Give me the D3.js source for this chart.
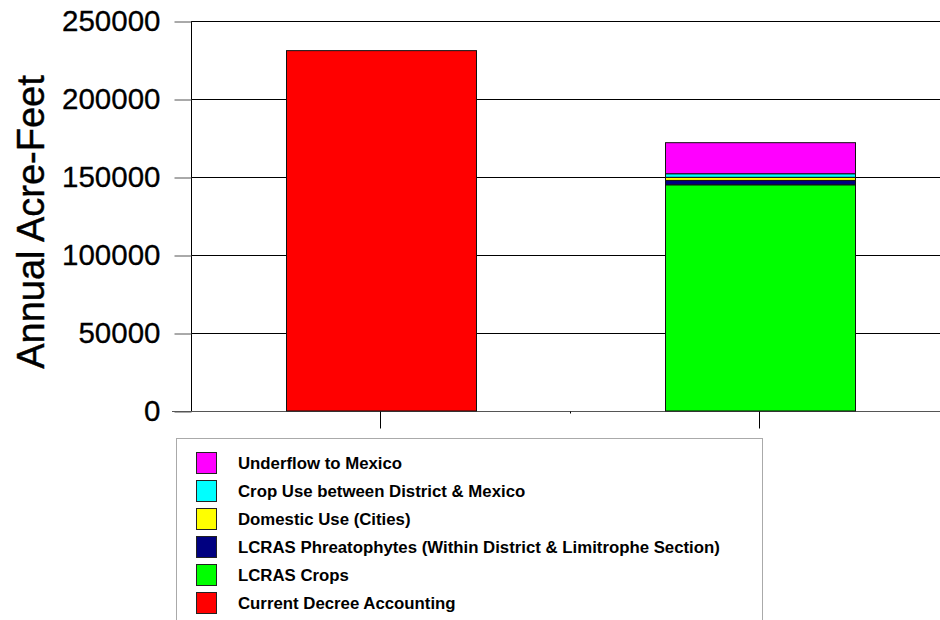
<!DOCTYPE html>
<html>
<head>
    <title>Annual Acre-Feet</title>
    <script src="https://cdn.jsdelivr.net/npm/d3@7"></script>
    <style>
        body { margin: 0; background: #fff; }
        svg { font-family: "Liberation Sans", Arial, sans-serif; }
        .grid line { stroke: #000; stroke-width: 1px; shape-rendering: crispEdges; }
        .legend text { font-weight: bold; font-size: 16.8px; }
    </style>
</head>
<body>
    <div id="chart"></div>
    <script>
        // categories (no labels shown on the x axis in the original)
        var categories = ["Current", "Proposed"];

        // series, listed bottom of stack to top
        var seriesNames = [
            "Current Decree Accounting",
            "LCRAS Crops",
            "LCRAS Phreatophytes (Within District & Limitrophe Section)",
            "Domestic Use (Cities)",
            "Crop Use between District & Mexico",
            "Underflow to Mexico"
        ];
        var seriesColors = ["#ff0000", "#00ff00", "#000080", "#ffff00", "#00ffff", "#ff00ff"];

        // values per series, one per category
        var currentDecree = [231000, 0];
        var lcrasCrops = [0, 145000];
        var phreatophytes = [0, 2800];
        var domesticUse = [0, 2000];
        var cropUseMexico = [0, 2300];
        var underflow = [0, 19900];

        var yTicks = [0, 50000, 100000, 150000, 200000, 250000];

        var seriesValues = [currentDecree, lcrasCrops, phreatophytes, domesticUse, cropUseMexico, underflow];

        var rows = categories.map(function (c, i) {
            var r = { category: c };
            seriesNames.forEach(function (s, j) { r[s] = seriesValues[j][i]; });
            return r;
        });

        var width = 940, height = 620;
        var margin = { left: 191, top: 21, bottom: 411, right: 949 };

        var svg = d3.select("#chart").append("svg")
            .attr("width", width)
            .attr("height", height);

        var x = d3.scaleBand()
            .domain(categories)
            .range([margin.left, margin.right])
            .paddingInner(0.5)
            .paddingOuter(0.25);

        var y = d3.scaleLinear()
            .domain([0, 250000])
            .range([margin.bottom, margin.top]);

        var color = d3.scaleOrdinal().domain(seriesNames).range(seriesColors);

        // gridlines
        svg.append("g")
            .attr("class", "grid")
            .selectAll("line")
            .data(yTicks)
            .enter().append("line")
            .attr("x1", margin.left)
            .attr("x2", width)
            .attr("y1", d => Math.round(y(d)) + 0.5)
            .attr("y2", d => Math.round(y(d)) + 0.5);

        // y axis
        var yAxis = svg.append("g")
            .attr("transform", "translate(" + (margin.left + 0.5) + ",0.5)")
            .call(d3.axisLeft(y).tickValues(yTicks).tickFormat(d3.format("d")).tickSize(17).tickPadding(14));
        yAxis.select(".domain").attr("stroke", "#000").attr("d", "M0," + Math.round(y(250000)) + "V" + Math.round(y(0)));
        yAxis.selectAll(".tick line").attr("stroke", "#555");
        yAxis.selectAll("text")
            .attr("font-size", 29.5)
            .attr("font-family", "Liberation Sans, Arial, sans-serif")
            .attr("fill", "#000")
            .attr("stroke", "#000")
            .attr("stroke-width", 0.3);

        // x axis
        var xAxis = svg.append("g")
            .attr("transform", "translate(0," + (Math.round(y(0)) + 0.5) + ")")
            .call(d3.axisBottom(x).tickSize(17).tickFormat(""));
        xAxis.select(".domain").attr("stroke", "#555").attr("d", "M172,0H" + width);
        xAxis.selectAll(".tick line").attr("stroke", "#000");
        xAxis.append("line")
            .attr("x1", Math.round(x.range()[0] + x.step()) + 0.5)
            .attr("x2", Math.round(x.range()[0] + x.step()) + 0.5)
            .attr("y1", 0).attr("y2", 2)
            .attr("stroke", "#000");

        // stacked bars
        var stack = d3.stack().keys(seriesNames);
        var layers = stack(rows);

        svg.append("g")
            .selectAll("g")
            .data(layers)
            .enter().append("g")
            .attr("fill", d => color(d.key))
            .selectAll("rect")
            .data(d => d.filter(p => p[1] - p[0] > 0))
            .enter().append("rect")
            .attr("x", d => Math.round(x(d.data.category)) + 0.5)
            .attr("width", Math.round(x.bandwidth()))
            .attr("y", d => y(d[1]))
            .attr("height", d => y(d[0]) - y(d[1]))
            .attr("stroke", "#111")
            .attr("stroke-width", 1);

        // y axis title
        svg.append("text")
            .attr("transform", "translate(44,222) rotate(-90)")
            .attr("text-anchor", "middle")
            .attr("font-size", 38)
            .attr("fill", "#000")
            .attr("stroke", "#000")
            .attr("stroke-width", 0.4)
            .text("Annual Acre-Feet");

        // legend
        var legend = svg.append("g").attr("class", "legend");
        legend.append("rect")
            .attr("x", 176.5).attr("y", 438.5)
            .attr("width", 586).attr("height", 200)
            .attr("fill", "#fff")
            .attr("stroke", "#aaa");

        var legendItems = seriesNames.slice().reverse();
        var item = legend.selectAll("g.item")
            .data(legendItems)
            .enter().append("g")
            .attr("class", "item")
            .attr("transform", (d, i) => "translate(0," + (463 + i * 28) + ")");

        item.append("rect")
            .attr("x", 196.5).attr("y", -10.5)
            .attr("width", 20).attr("height", 21)
            .attr("fill", d => color(d))
            .attr("stroke", "#222");

        item.append("text")
            .attr("x", 238)
            .attr("y", 6)
            .text(d => d);
    </script>
</body>
</html>
